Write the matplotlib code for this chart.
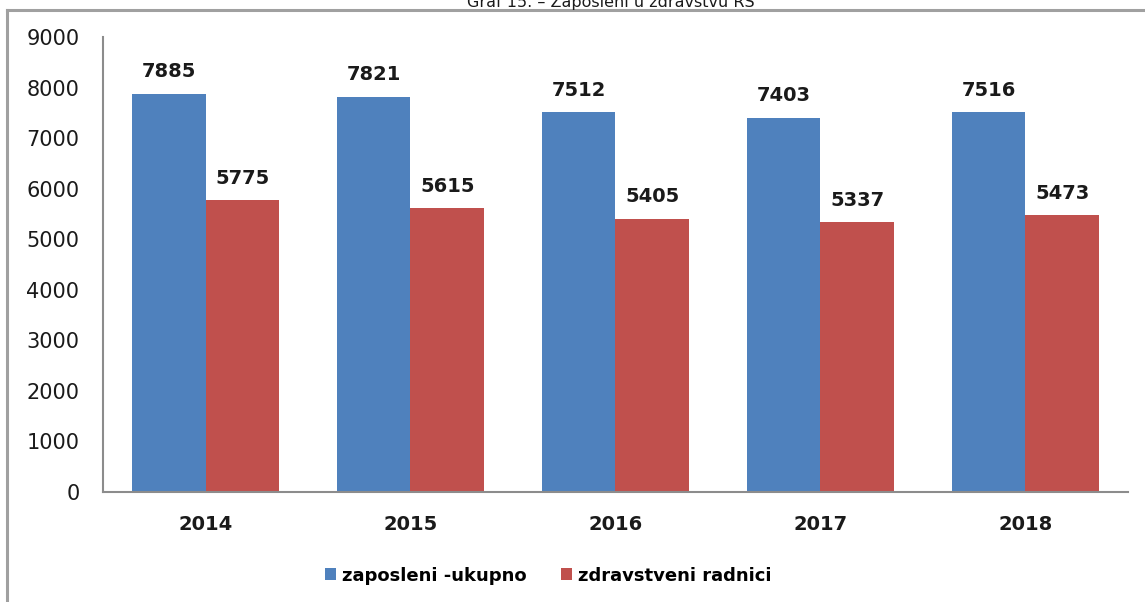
import matplotlib.pyplot as plt
from matplotlib.lines import Line2D
import numpy as np

godine = ['2014', '2015', '2016', '2017', '2018']
ukupno = [7885, 7821, 7512, 7403, 7516]
zdravstveni = [5775, 5615, 5405, 5337, 5473]
serije = ['zaposleni -ukupno', 'zdravstveni radnici']

plt.rcParams['font.family'] = ['DejaVu Sans']

fig = plt.figure(figsize=(11.45, 6.02), dpi=100)
ax = fig.add_axes([0.09, 0.183, 0.895, 0.755])

x = np.arange(len(godine))
w = 0.36
b1 = ax.bar(x - w/2, ukupno, w, color='#4F81BD', label=serije[0])
b2 = ax.bar(x + w/2, zdravstveni, w, color='#C0504D', label=serije[1])

for bars in (b1, b2):
    for r in bars:
        ax.annotate(str(int(r.get_height())), (r.get_x() + r.get_width()/2, r.get_height()),
                    xytext=(0, 9), textcoords='offset points', ha='center', va='bottom',
                    fontsize=14, fontweight='bold', color='#1a1a1a')

ax.set_xlim(-0.5, 4.5)
ax.set_ylim(0, 9000)
ax.set_yticks(range(0, 9001, 1000))
ax.set_xticks(x)
ax.set_xticklabels(godine, fontsize=14, fontweight='bold', color='#1a1a1a')
ax.tick_params(axis='y', labelsize=15, labelcolor='#1a1a1a', length=0, pad=17)
ax.tick_params(axis='x', length=0, pad=17)
for s in ['top', 'right']:
    ax.spines[s].set_visible(False)
for s in ['left', 'bottom']:
    ax.spines[s].set_color('#8c8c8c')
    ax.spines[s].set_linewidth(1.5)

leg = fig.legend(loc='center', bbox_to_anchor=(0.479, 0.044), ncol=2, frameon=False,
                 handlelength=0.6, handleheight=0.6, handletextpad=0.35, columnspacing=1.9,
                 prop={'size': 13, 'weight': 'bold'})

# okvir oko grafa
fig.add_artist(Line2D([7/1145, 1], [1 - 10/602, 1 - 10/602], color='#a0a0a0', lw=2.2))
fig.add_artist(Line2D([7/1145, 7/1145], [0, 1 - 10/602], color='#a0a0a0', lw=2.2))

fig.text(611/1145, 1 - 7/602, 'Graf 15. \u2013 Zaposleni u zdravstvu RS', ha='center', va='baseline',
         fontsize=11.5, color='#1a1a1a')

fig.savefig('out.png', dpi=100)
